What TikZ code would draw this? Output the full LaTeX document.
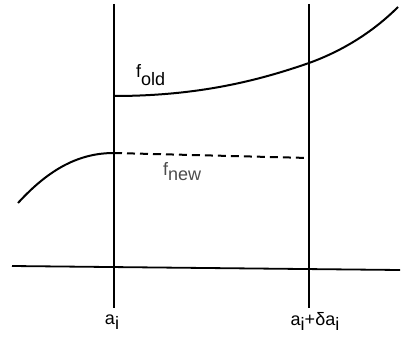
\documentclass[tikz,border=0pt]{standalone}
\usepackage{fontspec}
\setmainfont{Liberation Sans}
\usetikzlibrary{positioning}
\tikzset{
  lab/.style={anchor=base, inner sep=0pt, font=\fontsize{18}{21}\selectfont},
  curve/.style={line width=2pt}
}
\begin{document}
\begin{tikzpicture}[x=1pt, y=-1pt]
  \useasboundingbox (0,0) rectangle (403,337);
  % interval ends and axis
  \coordinate (lt) at (114,4);   \coordinate (lb) at (114,308);
  \coordinate (rt) at (309,4);   \coordinate (rb) at (309,308);
  \coordinate (xl) at (12,266);  \coordinate (xr) at (400,270);
  \draw[line width=2.3pt] (lt) -- (lb);
  \draw[line width=2.1pt] (rt) -- (rb);
  \draw[line width=1.8pt] (xl) -- (xr);
  % old and new function
  \coordinate (o1) at (114,96);  \coordinate (o2) at (309,63);
  \coordinate (o3) at (398,7);
  \draw[curve] (o1) .. controls (200,96) and (260,80) .. (o2)
    .. controls (345,50) and (375,30) .. (o3);
  \coordinate (n0) at (18,203);  \coordinate (n1) at (114,153);
  \coordinate (n2) at (309,158);
  \draw[curve] (n0) .. controls (50,168) and (80,153) .. (n1);
  \draw[curve, dash pattern=on 8pt off 5pt] (n1) -- (n2);
  % labels
  \node[lab, anchor=base west] (fold) at (136,77) {f\raisebox{-8pt}{old}};
  \node[lab, anchor=base west, text=black!70] (fnew) at (163,175) {f\raisebox{-5pt}{new}};
  \node[lab] (ai) at (112,324) {a\raisebox{-5pt}{i}};
  \node[lab] (aid) at (315,325) {a\raisebox{-5pt}{i}+δa\raisebox{-5pt}{i}};
\end{tikzpicture}
\end{document}
